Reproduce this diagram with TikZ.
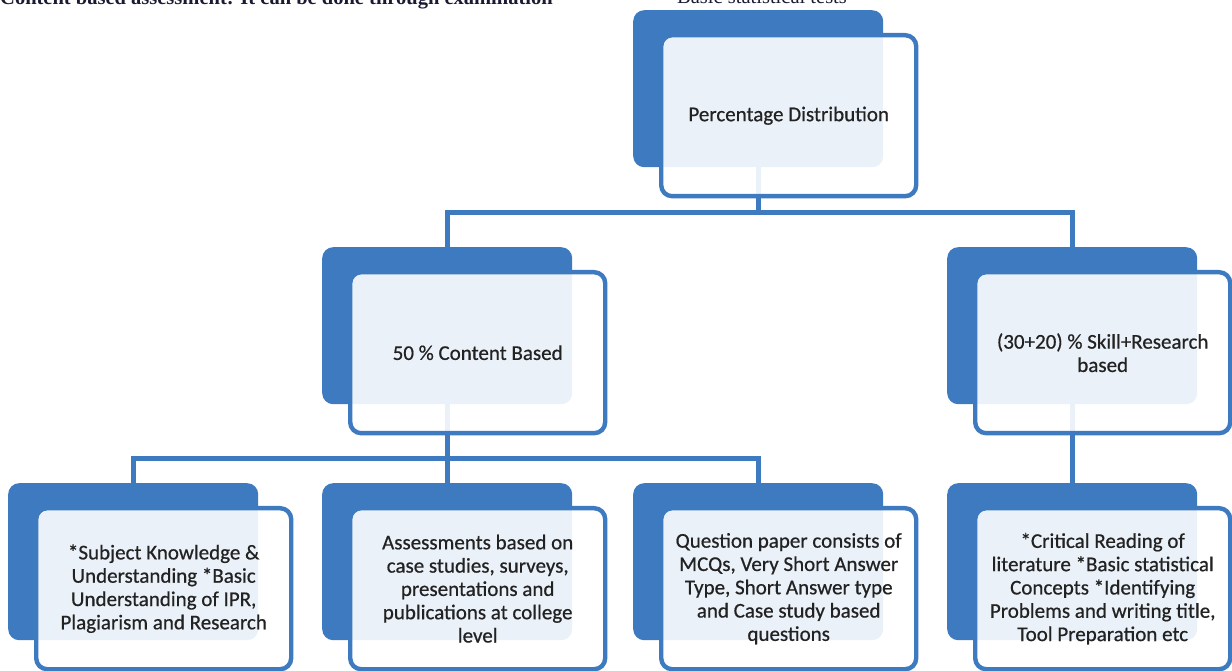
\documentclass[tikz,border=0pt]{standalone}
\usepackage{fontspec}
\setmainfont[FakeBold=0.6]{Carlito}
\newfontfamily\boxfont[FakeBold=0.6]{Carlito}
\newfontfamily\timesfont{Liberation Serif}
\usepackage{xcolor}
\definecolor{boxblue}{HTML}{3D7ABF}
\definecolor{txtgray}{HTML}{222222}
\definecolor{capnavy}{HTML}{1A1A33}

\begin{document}
\begin{tikzpicture}[x=1pt,y=1pt,
    back/.style={rectangle, rounded corners=11pt, fill=boxblue, inner sep=0pt,
        minimum width=250pt, minimum height=157pt, anchor=north west},
    front/.style={rectangle, rounded corners=11pt, draw=boxblue, line width=4.4pt,
        fill=white, fill opacity=0.9, text opacity=1, inner sep=0pt,
        minimum width=255pt, minimum height=161pt, anchor=north west,
        align=center, text=txtgray, font=\boxfont\fontsize{21}{23.3}\selectfont},
    link/.style={draw=boxblue, line width=5pt}]
    \useasboundingbox (0,0) rectangle (1232,670);

    % lines of the page above, cut by the frame
    \node[anchor=base west, inner sep=0pt, text=capnavy,
        font=\timesfont\bfseries\fontsize{20.5}{24}\selectfont] (cap1) at (0,665)
        {Content based assessment: It can be done through examination};
    \node[anchor=base west, inner sep=0pt, text=capnavy,
        font=\timesfont\fontsize{20.5}{24}\selectfont] (cap2) at (677,666)
        {Basic statistical tests};

    % dark back plates
    \node[back] (pdb) at (633,660) {};
    \node[back] (cbb) at (322,423) {};
    \node[back] (srb) at (947,423) {};
    \node[back] (skb) at (8,187) {};
    \node[back] (asb) at (322,187) {};
    \node[back] (qpb) at (633,187) {};
    \node[back] (crb) at (947,187) {};

    % connectors
    \draw[link] (pdb.south) -- ++(0,-45) -| (cbb.north);
    \draw[link] (pdb.south) -- ++(0,-45) -| (srb.north);
    \draw[link] (cbb.south) -- ++(0,-54) -| (skb.north);
    \draw[link] (cbb.south) -- ++(0,-54) -| (asb.north);
    \draw[link] (cbb.south) -- ++(0,-54) -| (qpb.north);
    \draw[link] (srb.south) -- (crb.north);

    % front cards
    \node[front] (pd) at ([shift={(26,-23)}]pdb.north west) {Percentage Distribution};
    \node[front] (cb) at ([shift={(26,-23)}]cbb.north west) {50 \% Content Based};
    \node[front] (sr) at ([shift={(26,-23)}]srb.north west) {(30+20) \% Skill+Research\\based};
    \node[front] (sk) at ([shift={(26,-23)}]skb.north west)
        {*Subject Knowledge \&\\Understanding *Basic\\Understanding of IPR,\\Plagiarism and Research};
    \node[front] (as) at ([shift={(26,-23)}]asb.north west)
        {Assessments based on\\case studies, surveys,\\presentations and\\publications at college\\level};
    \node[front] (qp) at ([shift={(26,-23)}]qpb.north west)
        {Question paper consists of\\MCQs, Very Short Answer\\Type, Short Answer type\\and Case study based\\questions};
    \node[front] (cr) at ([shift={(26,-23)}]crb.north west)
        {*Critical Reading of\\literature *Basic statistical\\Concepts *Identifying\\Problems and writing title,\\Tool Preparation etc};
\end{tikzpicture}
\end{document}
